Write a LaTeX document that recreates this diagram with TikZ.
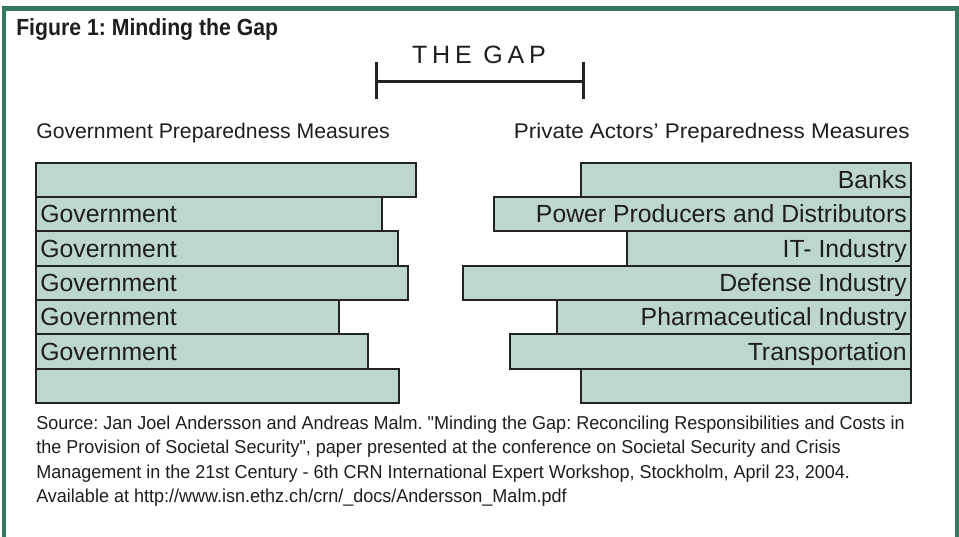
\documentclass[tikz,border=0pt]{standalone}
\usepackage{fontspec}
\setmainfont{Liberation Sans}
\newfontfamily\titlefont[FakeStretch=0.91]{Liberation Sans}
\newfontfamily\gapfont[LetterSpace=19]{Liberation Sans}
\newfontfamily\srcfont[FakeStretch=0.965]{Liberation Sans}
\newfontfamily\hdrfont{Liberation Sans}
\newfontfamily\hdrwidefont[FakeStretch=1.06]{Liberation Sans}
\definecolor{framegreen}{RGB}{52,120,94}
\definecolor{barfill}{RGB}{189,215,206}
\definecolor{barline}{RGB}{35,35,35}
\definecolor{textc}{RGB}{30,30,30}
\frenchspacing
\tikzset{
  barbox/.style={draw=barline, fill=barfill, line width=1.5pt, minimum height=25.77pt, inner sep=0pt, outer sep=0pt},
  bartext/.style={font=\fontsize{18.6}{22}\selectfont, text=textc, inner sep=0pt},
  hdrtext/.style={font=\hdrfont\fontsize{15.9}{19}\selectfont, text=textc, inner sep=0pt},
  hdrwide/.style={font=\hdrwidefont\fontsize{15.9}{19}\selectfont, text=textc, inner sep=0pt},
  srctext/.style={font=\srcfont\fontsize{14}{17}\selectfont, text=textc, inner sep=0pt, anchor=base west},
  bracketline/.style={draw=barline, line width=2.25pt}
}
\begin{document}
\begin{tikzpicture}[x=0.75pt,y=-0.75pt]
\useasboundingbox (0,0) rectangle (959,536);
\begin{scope}
\clip (0,0) rectangle (959,536);
\draw[framegreen, line width=3.4pt] (4,8.5) rectangle (957,570);
\end{scope}
% title
\node[anchor=base west, inner sep=0pt, text=textc, font=\titlefont\bfseries\fontsize{17.5}{20}\selectfont] (title) at (16,35) {Figure 1: Minding the Gap};
% the gap
\node[anchor=base, inner sep=0pt, text=textc, font=\gapfont\fontsize{18.8}{22}\selectfont] (gap) at (479,63.3) {THE GAP};
\coordinate (gl) at (376.7,81.7);
\coordinate (gr) at (583,81.7);
\coordinate (glt) at (376.7,62.3);
\coordinate (glb) at (376.7,99);
\coordinate (grt) at (583,62.3);
\coordinate (grb) at (583,99);
\draw[bracketline] (gl) -- (gr);
\draw[bracketline] (glt) -- (glb);
\draw[bracketline] (grt) -- (grb);
% headers
\node[hdrtext, anchor=base west] (hl) at (36,138) {Government Preparedness Measures};
\node[hdrwide, anchor=base east] (hr) at (910,138) {Private Actors’ Preparedness Measures};
% government bars
\foreach \i/\r/\t in {1/416/{},2/381.7/Government,3/398/Government,4/407.7/Government,5/339/Government,6/368/Government,7/399/{}}{
  \node[barbox, anchor=north west, minimum width={(\r-36)*0.75pt}] (g\i) at (36,{162.5+34.36*(\i-1)}) {};
  \node[bartext, anchor=base west] (gt\i) at ([xshift=3pt,yshift=-6.6pt]g\i.west) {\t};
}
% private bars
\foreach \i/\l/\t in {1/581/Banks,2/494/Power Producers and Distributors,3/626.7/IT- Industry,4/462.7/Defense Industry,5/556.7/Pharmaceutical Industry,6/510/Transportation,7/581/{}}{
  \node[barbox, anchor=north east, minimum width={(911-\l)*0.75pt}] (p\i) at (911,{162.5+34.36*(\i-1)}) {};
  \node[bartext, anchor=base east] (pt\i) at ([xshift=-3pt,yshift=-6.6pt]p\i.east) {\t};
}
% source
\node[srctext] (s1) at (36,429) {Source: Jan Joel Andersson and Andreas Malm. "Minding the Gap: Reconciling Responsibilities and Costs in};
\node[srctext] (s2) at (36,453.5) {the Provision of Societal Security", paper presented at the conference on Societal Security and Crisis};
\node[srctext] (s3) at (36,478) {Management in the 21st Century - 6th CRN International Expert Workshop, Stockholm, April 23, 2004.};
\node[srctext] (s4) at (36,502.5) {Available at http://www.isn.ethz.ch/crn/\_docs/Andersson\_Malm.pdf};
\end{tikzpicture}
\end{document}
